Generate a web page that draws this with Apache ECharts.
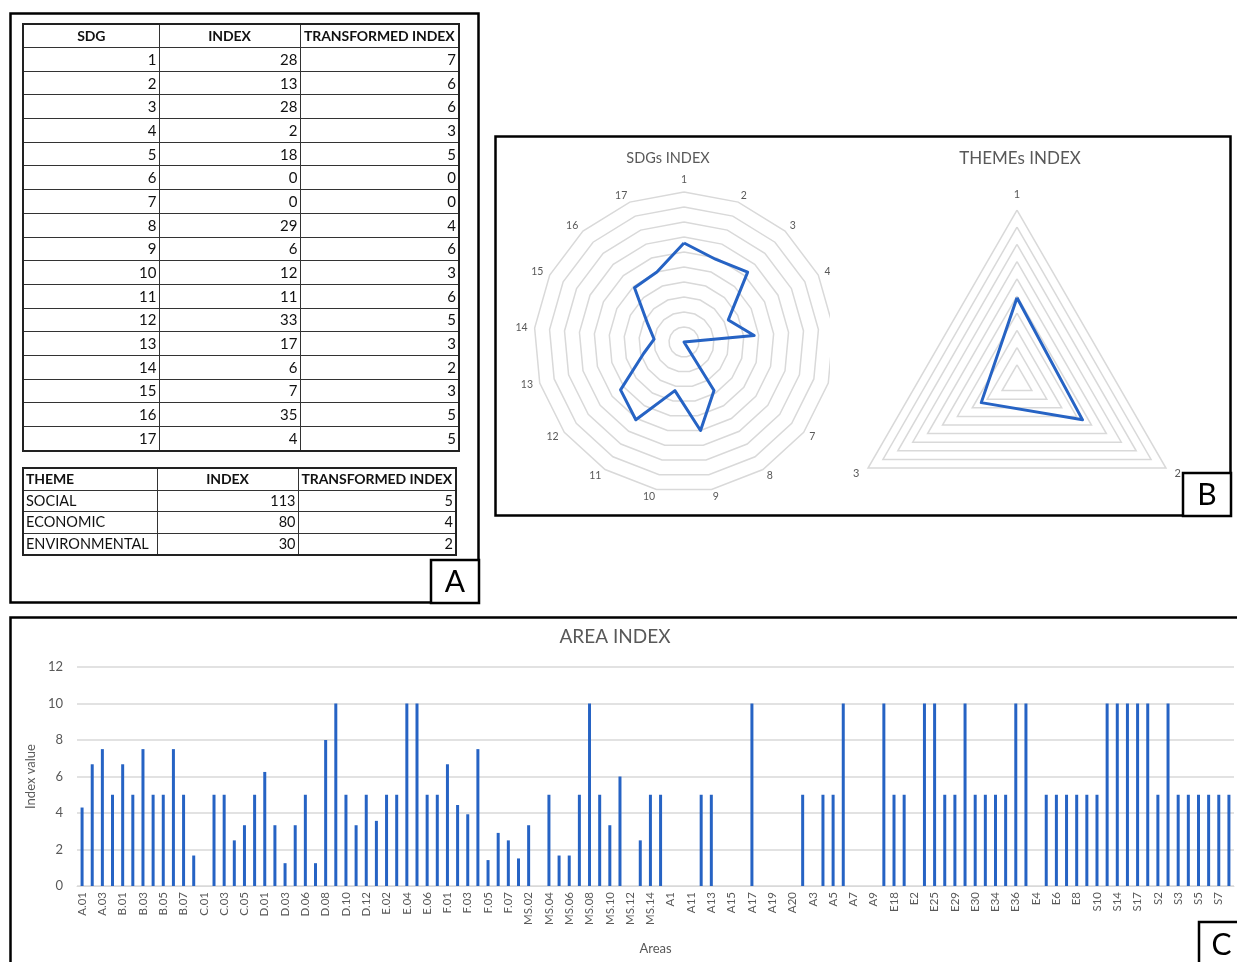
<!DOCTYPE html>
<html lang="en">
<head>
    <meta charset="UTF-8">
    <title>SDG / Theme / Area index</title>
    <script src="https://cdn.jsdelivr.net/npm/echarts@6/dist/echarts.min.js"></script>
    <style>
        *{
            padding:0;
            margin:0;
        }
        html,body{
            width:1237px;
            height:962px;
            overflow:hidden;
            background:#fff;
        }
        #main{
            position:absolute;
            left:0;
            top:0;
            width:1237px;
            height:962px;
        }
        table{
            position:absolute;
            border-collapse:collapse;
            font-family:Lato, "Open Sans", sans-serif;
            color:#111;
            table-layout:fixed;
            border:2px solid #222;
        }
        td,th{
            border:1px solid #333;
            padding:0 2px;
            white-space:nowrap;
            overflow:hidden;
            line-height:1;
        }
        th{
            font-weight:bold;
            text-align:center;
            font-size:14px;
            letter-spacing:-0.1px;
        }
        td{
            text-align:right;
        }
        #sdgTable{
            left:22px;
            top:23px;
            width:436px;
            font-size:15px;
        }
        #sdgTable th{ height:22px; }
        #sdgTable td{ height:22.7px; }
        #themeTable{
            left:22px;
            top:467px;
            width:433px;
            font-size:14.5px;
        }
        #themeTable th, #themeTable td{ height:20.6px; }
        #themeTable td.name, #themeTable th.name{ text-align:left; }
    </style>
</head>
<body>
<div id="main"></div>
<table id="sdgTable">
    <colgroup><col style="width:136px"><col style="width:141px"><col style="width:159px"></colgroup>
    <thead><tr><th>SDG</th><th>INDEX</th><th>TRANSFORMED INDEX</th></tr></thead>
    <tbody></tbody>
</table>
<table id="themeTable">
    <colgroup><col style="width:134px"><col style="width:141px"><col style="width:158px"></colgroup>
    <thead><tr><th class="name">THEME</th><th>INDEX</th><th>TRANSFORMED INDEX</th></tr></thead>
    <tbody></tbody>
</table>
<script>
    // ---- table data (panel A)
    var sdgs = [1,2,3,4,5,6,7,8,9,10,11,12,13,14,15,16,17];
    var sdgIndex = [28,13,28,2,18,0,0,29,6,12,11,33,17,6,7,35,4];
    var sdgTransformed = [7,6,6,3,5,0,0,4,6,3,6,5,3,2,3,5,5];
    var themes = ['SOCIAL','ECONOMIC','ENVIRONMENTAL'];
    var themeIndex = [113,80,30];
    var themeTransformed = [5,4,2];

    // ---- radar values as drawn (panel B)
    var sdgRadar = [6.6,5.9,6.3,3.3,4.7,0,0,3.8,6.0,3.3,6.1,5.3,2.8,2.0,2.7,4.9,5.0];
    var themeAxes = ['1','2','3'];
    var themeRadar = [4.9,4.4,2.4];

    // ---- area index (panel C)
    var areas = ['A.01','A.02','A.03','A.04','B.01','B.02','B.03','B.04','B.05','B.06','B.07','B.08',
        'C.01','C.02','C.03','C.04','C.05','C.06','D.01','D.02','D.03','D.05','D.06','D.07','D.08','D.09',
        'D.10','D.11','D.12','E.01','E.02','E.03','E.04','E.05','E.06','E.07','F.01','F.02','F.03','F.04',
        'F.05','F.06','F.07','MS.01','MS.02','MS.03','MS.04','MS.05','MS.06','MS.07','MS.08','MS.09','MS.10',
        'MS.11','MS.12','MS.13','MS.14','MS.15','A1','A10','A11','A12','A13','A14','A15','A16','A17','A18',
        'A19','A2','A20','A21','A3','A4','A5','A6','A7','A8','A9','E17','E18','E19','E2','E20','E25','E26',
        'E29','E3','E30','E31','E34','E35','E36','E37','E4','E5','E6','E7','E8','E9','S10','S11','S14','S15',
        'S17','S18','S2','S20','S3','S4','S5','S6','S7','S8'];
    var areaValues = [4.3,6.67,7.5,5,6.67,5,7.5,5,5,7.5,5,1.67,
        0,5,5,2.5,3.33,5,6.25,3.33,1.25,3.33,5,1.25,8,10,
        5,3.33,5,3.57,5,5,10,10,5,5,6.67,4.44,3.93,7.5,
        1.42,2.91,2.5,1.51,3.33,0,5,1.67,1.67,5,10,5,3.33,
        6,0,2.5,5,5,0,0,0,5,5,0,0,0,10,0,
        0,0,0,5,0,5,5,10,0,0,0,10,5,5,0,10,10,5,
        5,10,5,5,5,5,10,10,0,5,5,5,5,5,5,10,10,10,
        10,10,5,10,5,5,5,5,5,5];
    var yTicks = [0,2,4,6,8,10,12];

    // fill the html tables
    var tb = document.querySelector('#sdgTable tbody');
    sdgs.forEach(function (s, i) {
        var tr = document.createElement('tr');
        tr.innerHTML = '<td>' + s + '</td><td>' + sdgIndex[i] + '</td><td>' + sdgTransformed[i] + '</td>';
        tb.appendChild(tr);
    });
    var tb2 = document.querySelector('#themeTable tbody');
    themes.forEach(function (t, i) {
        var tr = document.createElement('tr');
        tr.innerHTML = '<td class="name">' + t + '</td><td>' + themeIndex[i] + '</td><td>' + themeTransformed[i] + '</td>';
        tb2.appendChild(tr);
    });

    // echarts radar runs counter-clockwise, excel runs clockwise -> reverse after the first axis
    function cw(arr) {
        return [arr[0]].concat(arr.slice(1).reverse());
    }

    var blue = '#2663c4';
    var grey = '#595959';
    var font = 'Lato, "Open Sans", sans-serif';

    var myChart = echarts.init(document.getElementById('main'));

    function labelBox(x, y, w, h, letter) {
        return [
            {type:'rect', z:100, shape:{x:x, y:y, width:w, height:h}, style:{fill:'#fff', stroke:'#000', lineWidth:2.5}},
            {type:'text', z:101, x:x + w / 2, y:y + h / 2 + 1, style:{text:letter, font:'30px ' + font, fill:'#000', align:'center', verticalAlign:'middle'}}
        ];
    }

    var option = {
        animation:false,
        textStyle:{fontFamily:font},
        graphic:[].concat(
            [
                {type:'rect', z:10, shape:{x:10.5, y:13.5, width:468, height:589}, style:{fill:'none', stroke:'#000', lineWidth:2.5}},
                {type:'rect', z:10, shape:{x:495.5, y:136.5, width:735, height:379}, style:{fill:'none', stroke:'#000', lineWidth:2.5}},
                {type:'rect', z:10, shape:{x:10.5, y:617.5, width:1240, height:360}, style:{fill:'none', stroke:'#000', lineWidth:2.5}},
                // white plot area of the themes chart, it hides the right edge of the SDG radar
                {type:'rect', z:3, shape:{x:830, y:139, width:398, height:375}, style:{fill:'#fff'}},
                {type:'text', z:10, x:668, y:158, style:{text:'SDGs INDEX', font:'14.5px ' + font, fill:grey, align:'center', verticalAlign:'middle'}},
                {type:'text', z:10, x:1020, y:159, style:{text:'THEMEs INDEX', font:'17px ' + font, fill:grey, align:'center', verticalAlign:'middle'}},
                {type:'text', z:10, x:615, y:637, style:{text:'AREA INDEX', font:'19px ' + font, fill:grey, align:'center', verticalAlign:'middle'}}
            ],
            labelBox(431, 560, 48, 43, 'A'),
            labelBox(1183, 473, 48, 43, 'B'),
            labelBox(1199, 922, 45, 45, 'C')
        ),
        radar:[
            {
                z:1,
                center:[684, 342],
                radius:150,
                startAngle:90,
                shape:'polygon',
                splitNumber:10,
                nameGap:7,
                indicator:cw(sdgs).map(function (s) { return {name:String(s), min:0, max:10}; }),
                axisName:{color:grey, fontSize:10.5},
                axisLine:{show:false},
                axisTick:{show:false},
                axisLabel:{show:false},
                splitArea:{show:false},
                splitLine:{lineStyle:{color:'#d9d9d9', width:1.5}}
            },
            {
                z:5,
                center:[1017, 382],
                radius:172,
                startAngle:90,
                shape:'polygon',
                splitNumber:10,
                nameGap:10,
                indicator:cw(themeAxes).map(function (s) { return {name:s, min:0, max:10}; }),
                axisName:{color:grey, fontSize:11},
                axisLine:{show:false},
                axisTick:{show:false},
                axisLabel:{show:false},
                splitArea:{show:false},
                splitLine:{lineStyle:{color:'#d9d9d9', width:1.5}}
            }
        ],
        grid:{left:77, right:3, top:667, bottom:76},
        xAxis:{
            type:'category',
            data:areas,
            name:'Areas',
            nameLocation:'middle',
            nameGap:56,
            nameTextStyle:{color:grey, fontSize:13},
            axisTick:{show:false},
            axisLine:{lineStyle:{color:'#d9d9d9'}},
            axisLabel:{interval:1, rotate:90, color:grey, fontSize:11.5, margin:6}
        },
        yAxis:{
            type:'value',
            min:yTicks[0],
            max:yTicks[yTicks.length - 1],
            interval:yTicks[1] - yTicks[0],
            name:'Index value',
            nameLocation:'middle',
            nameRotate:90,
            nameGap:31,
            nameTextStyle:{color:grey, fontSize:13},
            axisLine:{show:false},
            axisTick:{show:false},
            axisLabel:{color:grey, fontSize:13, margin:14},
            splitLine:{lineStyle:{color:'#d9d9d9', width:1.5}}
        },
        series:[
            {
                type:'radar',
                radarIndex:0,
                z:2,
                symbol:'none',
                lineStyle:{color:blue, width:3},
                data:[{value:cw(sdgRadar), name:'SDGs INDEX'}]
            },
            {
                type:'radar',
                radarIndex:1,
                z:6,
                symbol:'none',
                lineStyle:{color:blue, width:3},
                data:[{value:cw(themeRadar), name:'THEMEs INDEX'}]
            },
            {
                type:'bar',
                data:areaValues,
                barWidth:3,
                itemStyle:{color:blue}
            }
        ]
    };
    myChart.setOption(option);
</script>
</body>
</html>
